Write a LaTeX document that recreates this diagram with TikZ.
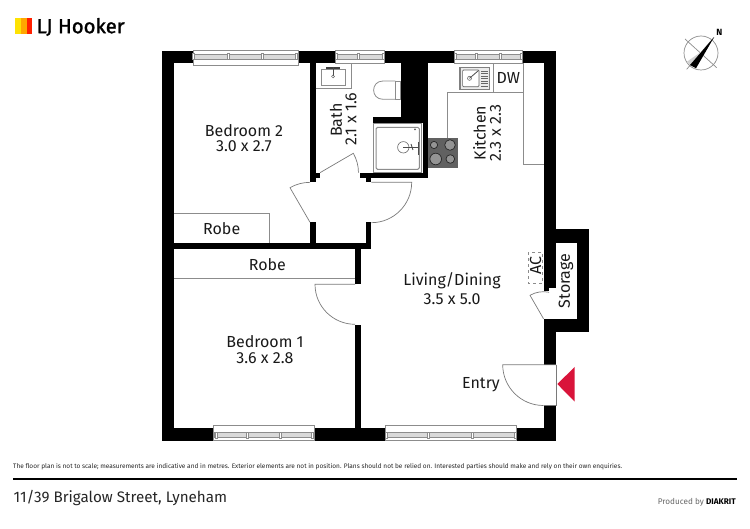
\documentclass[tikz,border=0pt]{standalone}
\usepackage{fontspec}
\setmainfont{Fira Sans}
\newfontfamily\logofont[FakeBold=1.4]{Fira Sans}

\definecolor{fixture}{HTML}{8C8C8C}
\definecolor{doorline}{HTML}{7A7A7A}
\definecolor{entryred}{HTML}{D9143A}

\tikzset{
  wall/.style={fill=black},
  fixture/.style={draw=fixture, line width=0.8pt},
  door/.style={draw=doorline, line width=0.7pt},
  room/.style={inner sep=0pt, font=\fontsize{16}{16}\selectfont, text=black!90},
}

% x1, x2, y1, y2, bar top, bar bottom, mullions
\newcommand{\windowpane}[7]{
  \draw[fixture, fill=white] (#1,#3) rectangle (#2,#4);
  \draw[fixture, fill=black!15] (#1+1,#5) rectangle (#2-1,#6);
  \foreach \mx in {#7} {
    \draw[fixture, fill=white, line width=0.6pt] (\mx-1,#5-0.8) rectangle (\mx+1,#6+0.8);
  }
}

\begin{document}
\begin{tikzpicture}[x=1pt, y=-1pt]
\useasboundingbox (0,0) rectangle (750,529);

% Logo
\fill[yellow!85!orange] (15.3,17.7) rectangle (21,34);
\fill[orange!70!yellow] (21,17.7) rectangle (26.5,34);
\fill[red!75!orange] (26.5,17.7) rectangle (32.3,34);
\node[anchor=west, inner sep=0pt, font=\logofont\fontsize{20.3}{20.3}\selectfont] (logo) at (36.5,27) {LJ Hooker};

% Compass
\draw[black!45, line width=0.7pt] (701,53) circle (17);
\draw[black!45, line width=0.7pt] (685,39) -- (716.7,67.7);
\draw[black!45, line width=0.7pt] (686.7,69.3) -- (714,37.3);
\fill[black!18] (686.5,62) -- (690,65) -- (703,50.5) -- cycle;
\fill[black] (714,37.3) -- (690,65) -- (696,68.3) -- cycle;
\node[inner sep=0pt, font=\fontsize{9}{9}\selectfont\bfseries] (north) at (719.3,32.3) {N};

% Outer walls
\fill[wall] (161.7,51) rectangle (556,63.3);
\fill[wall] (161.7,51) rectangle (174.3,440.7);
\fill[wall] (161.7,428.3) rectangle (556,440.7);
\fill[wall] (543.5,51) rectangle (556,288.5);
\fill[wall] (543.5,288) rectangle (549,290.7);
\fill[wall] (543.5,319) rectangle (556,364.7);
\fill[wall] (543.5,405) rectangle (556,440.7);

% Storage
\fill[wall] (543.5,229.5) rectangle (589,242.7);
\fill[wall] (576.7,229.5) rectangle (589,332.3);
\fill[wall] (543.5,319) rectangle (589,332.3);

% Inner walls
\fill[wall] (174,243.3) rectangle (371.3,249);
\fill[wall] (310,63) rectangle (315.7,181.7);
\fill[wall] (315.7,172.7) rectangle (320,178.3);
\fill[wall] (310,222.3) rectangle (315.7,245);
\fill[wall] (365.5,222.5) rectangle (371.3,249);
\fill[wall] (360,172.7) rectangle (428.3,178.3);
\fill[wall] (365.5,178) rectangle (371.3,182.3);
\fill[wall] (400.7,63) rectangle (428.3,122.7);
\fill[wall] (372.7,117.3) rectangle (428.3,122.7);
\fill[wall] (422.7,117.3) rectangle (428.3,178);
\fill[wall] (355,245) rectangle (360.5,284.3);
\fill[wall] (355,325.3) rectangle (360.5,430);

% Windows
\windowpane{193}{298}{50.5}{65}{54.3}{59}{193.5,228.3,262.3,296.7}
\windowpane{335}{384}{50.5}{63.3}{54.3}{59}{336,358.3,383}
\windowpane{454.5}{522.7}{50.5}{63.3}{54.3}{59}{455.5,476.7,500,521.7}
\windowpane{213.3}{314}{425.7}{440.7}{432.7}{437}{216,247.3,280.7,312.3}
\windowpane{385}{516.7}{425.7}{440.7}{432.7}{437}{386.7,428.7,472.7,515.7}

% Doors
\draw[door] (320,172.7) -- (353.3,153.3) arc[start angle=-30, end angle=0, radius=38.5];
\draw[door] (310,222.3) -- (290,187.7) arc[start angle=240, end angle=270, radius=40];
\draw[door] (371.3,182.3) -- (411.7,182.3) arc[start angle=0, end angle=90, radius=40.4];
\draw[door] (355,284.3) -- (315,284.3) arc[start angle=180, end angle=90, radius=40];
\draw[door] (556,364.7) -- (502.7,364.7) arc[start angle=180, end angle=90, radius=40.8];
\draw[door] (556,364.7) -- (556,405) -- (543.5,405);
\draw[door] (543.5,318.7) -- (530,295.3) arc[start angle=240, end angle=282, radius=27];

% Entry marker
\fill[entryred] (557.3,384) -- (574.7,367) -- (574.7,401.7) -- cycle;

% Robes and kitchen bench
\draw[fixture] (174.3,213.3) -- (269.7,213.3) -- (269.7,243.3);
\draw[fixture, line width=1pt] (174.3,278.7) -- (355,278.7);
\draw[fixture] (447.3,137.7) -- (447.3,92.7) -- (523.3,92.7);
\draw[fixture] (493.3,63.3) -- (493.3,92.7);
\draw[fixture] (523.3,63.3) -- (523.3,164.7) -- (543.5,164.7);

% Basin
\draw[fixture] (315.7,88.3) -- (351.7,88.3) -- (351.7,63.3);
\draw[fixture, fill=white] (321.7,69.5) rectangle (345,85.3);
\fill[black!75] (326,67.3) rectangle (339.5,68.7);
\draw[black!70, line width=0.9pt] (333,67) -- (333,76);
\draw[black!60, line width=0.5pt] (333,76.5) circle (1.4);

% Toilet
\draw[fixture] (395.3,81) rectangle (400.7,99.3);
\draw[fixture] (395.3,81) -- (383,81) .. controls (370.5,81) and (370.5,99.3) .. (383,99.3) -- (395.3,99.3);

% Shower
\draw[fixture, fill=white] (373.3,123) rectangle (421.7,172.7);
\draw[fixture, rounded corners=1.5pt, line width=1pt] (376,127.3) rectangle (419.3,169.3);
\draw[black!60, line width=0.6pt] (403.3,147.3) circle (5.7);
\draw[black!70, line width=0.9pt] (403.3,147.3) -- (418,147.3);
\draw[black!70, line width=0.9pt] (418.5,142) -- (418.5,155);
\draw[black!70, line width=0.9pt] (411,144) -- (413,150);
\fill[black!65] (415,129.3) circle (1);

% Cooktop
\fill[black!62] (428.3,137.7) rectangle (458,168);
\foreach \bx/\by/\br in {434/145/3.6, 450/145/5.3, 435.7/159/5.8, 450.3/159/4.3} {
  \draw[black!85, fill=black!42, line width=0.7pt] (\bx,\by) circle (\br);
}

% Kitchen sink
\draw[black!50, fill=black!8, line width=1.1pt] (460,67.7) rectangle (489.3,89.3);
\draw[black!60, fill=white, rounded corners=1pt, line width=0.7pt] (462.6,70) rectangle (479,86.7);
\foreach \sy in {71,73.5,...,86} {
  \draw[black!60, line width=0.4pt] (481,\sy) -- (488,\sy);
}
\draw[black!60, line width=0.6pt] (469.5,78.3) circle (2);
\draw[black!70, line width=0.8pt] (469.5,78.3) -- (478.3,70.7);

% AC
\draw[black!45, dashed, line width=0.6pt] (528.3,252.3) rectangle (542.7,283.3);

% Room labels
\node[room] (bedtwo) at (244,131) {Bedroom 2};
\node[room] (bedtwosize) at (244,146) {3.0 x 2.7};
\node[room] (robetwo) at (221.7,228.3) {Robe};
\node[room] (robeone) at (267.3,265) {Robe};
\node[room] (bedone) at (265,342) {Bedroom 1};
\node[room] (bedonesize) at (265,358) {3.6 x 2.8};
\node[room] (living) at (452,281) {Living/Dining};
\node[room] (livingsize) at (452,299) {3.5 x 5.0};
\node[room] (entry) at (481,384.5) {Entry};
\node[room] (dw) at (508.3,77.7) {DW};
\node[room, rotate=90] (bath) at (336,120) {Bath};
\node[room, rotate=90] (bathsize) at (351,119) {2.1 x 1.6};
\node[room, rotate=90] (kitchen) at (479.5,133) {Kitchen};
\node[room, rotate=90] (kitchensize) at (495.5,133) {2.3 x 2.3};
\node[room, rotate=90] (ac) at (535.5,266) {AC};
\node[room, rotate=90] (storage) at (566,281) {Storage};

% Footer
\node[anchor=west, inner sep=0pt, font=\fontsize{6.5}{6.5}\selectfont, text=black!85] (disclaimer) at (13,467) {The floor plan is not to scale; measurements are indicative and in metres. Exterior elements are not in position. Plans should not be relied on. Interested parties should make and rely on their own enquiries.};
\coordinate (ruleleft) at (13,479.3);
\coordinate (ruleright) at (737,479.3);
\draw[line width=2pt] (ruleleft) -- (ruleright);
\node[anchor=west, inner sep=0pt, font=\fontsize{15.2}{15.2}\selectfont, text=black!85] (address) at (13.5,497.7) {11/39 Brigalow Street, Lyneham};
\node[anchor=east, inner sep=0pt, font=\fontsize{8.2}{8.2}\selectfont, text=black!60] (produced) at (736,502) {Produced by \textcolor{black}{\textbf{DIAKRIT}}};
\end{tikzpicture}
\end{document}
